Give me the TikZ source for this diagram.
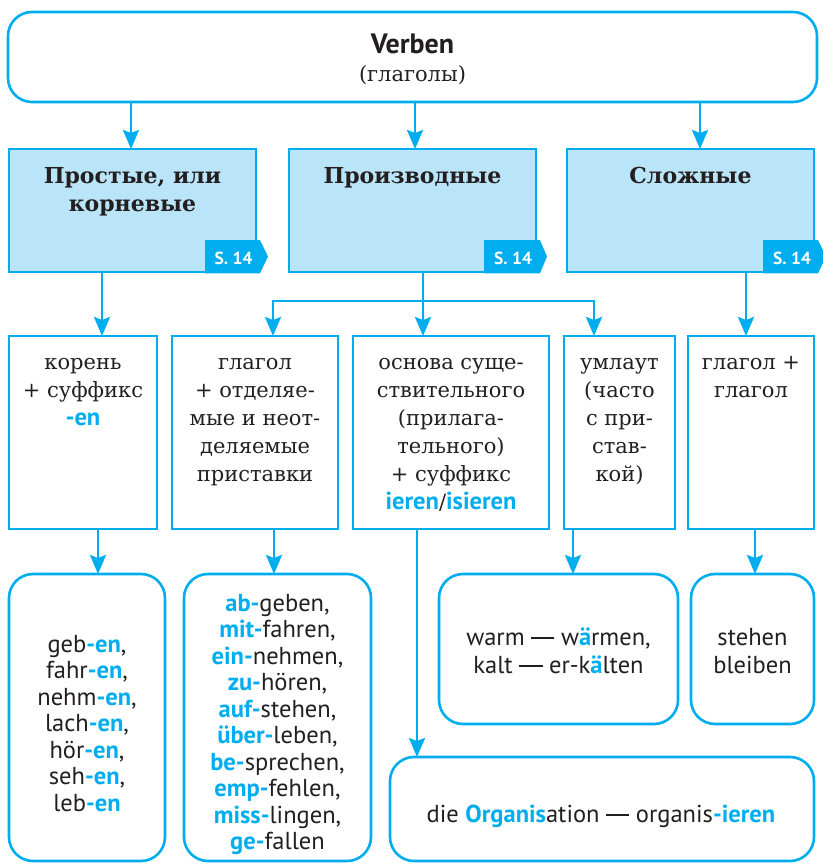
\documentclass[tikz,border=0pt]{standalone}
\usepackage{fontspec}
\setmainfont{DejaVu Serif}
\setsansfont{PT Sans}
\usetikzlibrary{arrows.meta}
\definecolor{cy}{HTML}{00AEEF}
\definecolor{cyl}{HTML}{BAE4F8}
\definecolor{ink}{HTML}{231F20}
\newcommand{\bl}[1]{{\sffamily\bfseries\color{cy}#1}}
\newcommand{\blr}[1]{{\sffamily\bfseries\fontsize{24.5}{28}\selectfont\color{cy}#1}}
\newcommand{\emd}{\rule[0.25em]{0.95em}{0.065em}}
\begin{document}
\begin{tikzpicture}[x=1pt,y=-1pt,
  frame/.style={draw=cy,line width=2.6pt},
  sq/.style={frame,fill=white,inner sep=0pt,outer sep=0pt},
  hd/.style={frame,fill=cyl,inner sep=0pt,outer sep=0pt},
  rnd/.style={frame,fill=white,rounded corners=24pt,inner sep=0pt,outer sep=0pt},
  tipA/.tip={Stealth[length=19pt,width=16pt,inset=3pt]},
  arr/.style={draw=cy,line width=2.6pt,-tipA},
  ru/.style={font=\fontsize{21}{28}\selectfont,text=ink,align=center,anchor=north,inner sep=0pt},
  hdt/.style={font=\bfseries\fontsize{22}{28}\selectfont,text=ink,align=center,anchor=north,inner sep=0pt},
  de/.style={font=\sffamily\fontsize{24.5}{26.5}\selectfont,text=ink,align=center,anchor=north,inner sep=0pt},
  dew/.style={font=\sffamily\fontsize{24.5}{28}\selectfont,text=ink,align=center,anchor=north,inner sep=0pt},
  tabt/.style={font=\sffamily\bfseries\fontsize{17.5}{20}\selectfont,text=white,anchor=base,inner sep=0pt}]
\useasboundingbox (0,0) rectangle (822,864);
% boxes
\node[rnd,minimum width=809pt,minimum height=90pt] (top) at (412.5,57) {};
\node[hd,minimum width=247pt,minimum height=123pt] (P1) at (132.5,210.5) {};
\node[hd,minimum width=247pt,minimum height=123pt] (P2) at (412.5,210.5) {};
\node[hd,minimum width=247pt,minimum height=123pt] (P3) at (690.5,210.5) {};
\node[sq,minimum width=148pt,minimum height=193pt] (T1) at (83,432.5) {};
\node[sq,minimum width=166pt,minimum height=193pt] (T2) at (255,432.5) {};
\node[sq,minimum width=196pt,minimum height=193pt] (T3) at (451,432.5) {};
\node[sq,minimum width=111pt,minimum height=193pt] (T4) at (619.5,432.5) {};
\node[sq,minimum width=126pt,minimum height=193pt] (T5) at (751,432.5) {};
\node[rnd,minimum width=156pt,minimum height=287pt] (A) at (87,717.5) {};
\node[rnd,minimum width=187pt,minimum height=287pt] (B) at (277.5,717.5) {};
\node[rnd,minimum width=239pt,minimum height=150pt] (C) at (558.5,649) {};
\node[rnd,minimum width=123pt,minimum height=150pt] (D) at (752.5,649) {};
\node[rnd,minimum width=424pt,minimum height=104pt] (E) at (602,809) {};
% tabs
\fill[cy] (205,240) -- (260,240) -- (268,256.6) -- (260,273.3) -- (205,273.3) -- cycle;
\fill[cy] (484,240) -- (540,240) -- (547,256.6) -- (540,273.3) -- (484,273.3) -- cycle;
\fill[cy] (763,240) -- (818,240) -- (826,256.6) -- (818,273.3) -- (763,273.3) -- cycle;
\node[tabt] (s1) at (233.5,264) {S. 14};
\node[tabt] (s2) at (513,264) {S. 14};
\node[tabt] (s3) at (792,264) {S. 14};
% arrow x positions
\coordinate (x1) at (131,0);
\coordinate (x2) at (415,0);
\coordinate (x3) at (700,0);
\coordinate (x4) at (102,0);
\coordinate (x5) at (746,0);
\coordinate (x6) at (98,0);
\coordinate (x7) at (274,0);
\coordinate (x8) at (417,0);
\coordinate (x9) at (573,0);
\coordinate (x10) at (755,0);
\coordinate (bL) at (273,301);
\coordinate (bM) at (423,301);
\coordinate (bR) at (594,301);
\draw[arr] (top.south -| x1) -- (P1.north -| x1);
\draw[arr] (top.south -| x2) -- (P2.north -| x2);
\draw[arr] (top.south -| x3) -- (P3.north -| x3);
\draw[arr] (P1.south -| x4) -- (T1.north -| x4);
\draw[arr] (P3.south -| x5) -- (T5.north -| x5);
\draw[arr] (P2.south -| bM) -- (T3.north -| bM);
\draw[draw=cy,line width=2.6pt,tipA-tipA] (T2.north -| bL) -- (bL) -- (bR) -- (T4.north -| bR);
\draw[arr] (T1.south -| x6) -- (A.north -| x6);
\draw[arr] (T2.south -| x7) -- (B.north -| x7);
\draw[arr] (T3.south -| x8) -- (E.north -| x8);
\draw[arr] (T4.south -| x9) -- (C.north -| x9);
\draw[arr] (T5.south -| x10) -- (D.north -| x10);
% texts
\node[anchor=base,font=\sffamily\bfseries\fontsize{28}{30}\selectfont,text=ink,inner sep=0pt] (vt) at (412.5,54) {Verben};
\node[anchor=base,font=\fontsize{21}{28}\selectfont,text=ink,inner sep=0pt] (gt) at (412.5,82) {(глаголы)};
\node[hdt] (h1) at (132.5,163.4) {\strut Простые, или\\корневые};
\node[hdt] (h2) at (412.5,163.4) {\strut Производные};
\node[hdt] (h3) at (690.5,163.4) {\strut Сложные};
\node[ru] (r1) at (83,349.4) {\strut корень\\+ суффикс\\\blr{-en}};
\node[ru] (r2) at (255,349.4) {\strut глагол\\+ отделяе-\\мые и неот-\\деляемые\\приставки};
\node[ru] (r3) at (451,349.4) {\strut основа суще-\\ствительного\\(прилага-\\тельного)\\+ суффикс\\\blr{ieren}/\blr{isieren}};
\node[ru] (r4) at (619.5,349.4) {\strut умлаут\\(часто\\с при-\\став-\\кой)};
\node[ru] (r5) at (751,349.4) {\strut глагол +\\глагол};
\node[de] (ga) at (87,633.45) {\strut geb\bl{-en},\\fahr\bl{-en},\\nehm\bl{-en},\\lach\bl{-en},\\hör\bl{-en},\\seh\bl{-en},\\leb\bl{-en}};
\node[de] (gb) at (277.5,592.45) {\strut \bl{ab-}geben,\\\bl{mit-}fahren,\\\bl{ein-}nehmen,\\\bl{zu-}hören,\\\bl{auf-}stehen,\\\bl{über-}leben,\\\bl{be-}sprechen,\\\bl{emp-}fehlen,\\\bl{miss-}lingen,\\\bl{ge-}fallen};
\node[dew] (gc) at (558.5,625.4) {\strut warm \emd{} w\bl{ä}rmen,\\kalt \emd{} er-k\bl{ä}lten};
\node[dew] (gd) at (752.5,625.4) {\strut stehen\\bleiben};
\node[anchor=base,font=\sffamily\fontsize{24.5}{28}\selectfont,text=ink,inner sep=0pt] (ge) at (601,822) {die \bl{Organis}ation \emd{} organis\bl{-ieren}};
\end{tikzpicture}
\end{document}
